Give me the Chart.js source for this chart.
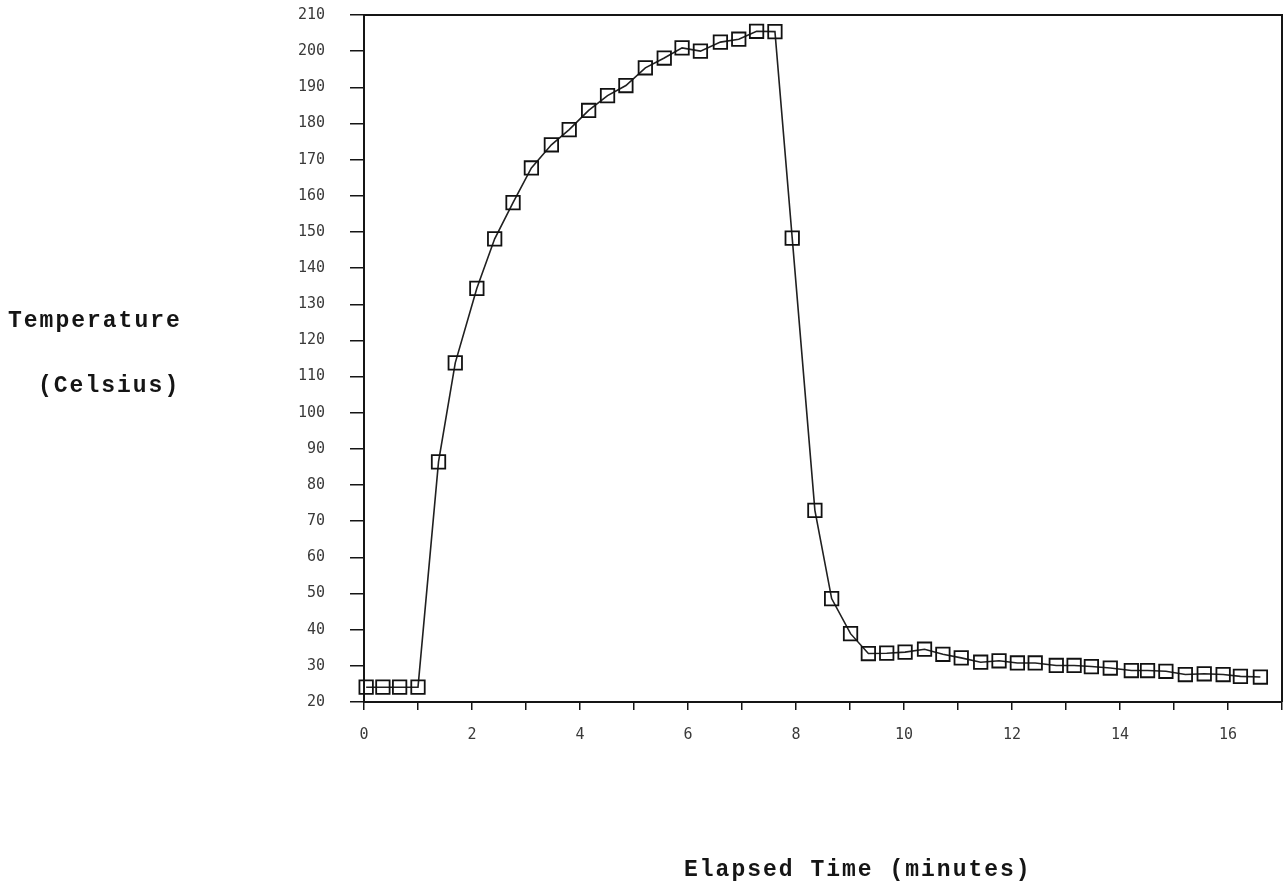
<!DOCTYPE html>
<html>
<head>
<meta charset="utf-8">
<title>Temperature vs Elapsed Time</title>
<script src="https://cdn.jsdelivr.net/npm/chart.js@4"></script>
<style>
  html, body { margin: 0; padding: 0; background: #ffffff; }
  #wrap { position: relative; width: 1288px; height: 885px; }
  canvas { display: block; }
</style>
</head>
<body>
<div id="wrap"><canvas id="c" width="1288" height="885"></canvas></div>
<script>
// Sampled readings: elapsed time (minutes) and measured temperature (Celsius)
const timeMin = [0.04, 0.35, 0.66, 1.00, 1.38, 1.69, 2.09, 2.42, 2.76, 3.10,
                 3.47, 3.80, 4.16, 4.51, 4.85, 5.21, 5.56, 5.89, 6.23, 6.60,
                 6.94, 7.27, 7.61, 7.93, 8.35, 8.66, 9.01, 9.34, 9.68, 10.02,
                 10.38, 10.72, 11.06, 11.42, 11.76, 12.10, 12.43, 12.82, 13.15, 13.47,
                 13.82, 14.21, 14.51, 14.85, 15.21, 15.56, 15.91, 16.23, 16.60];
const tempC   = [24.1, 24.1, 24.1, 24.1, 86.4, 113.8, 134.4, 148.1, 158.1, 167.7,
                 174.1, 178.3, 183.6, 187.7, 190.5, 195.4, 198.1, 200.9, 200.0, 202.5,
                 203.3, 205.5, 205.4, 148.3, 73.0, 48.6, 38.9, 33.4, 33.5, 33.8,
                 34.6, 33.2, 32.2, 31.0, 31.4, 30.8, 30.8, 30.1, 30.1, 29.8,
                 29.4, 28.7, 28.7, 28.5, 27.6, 27.8, 27.6, 27.1, 26.9];

// Axis ranges and labelled ticks
const xRange = [0, 17];
const yRange = [20, 210];
const xLabelled = [0, 2, 4, 6, 8, 10, 12, 14, 16];

// Axis captions
const yTitleLines = ['Temperature', '(Celsius)'];
const xTitle = 'Elapsed Time (minutes)';

const points = timeMin.map((t, i) => ({ x: t, y: tempC[i] }));

const INK = '#151515';
const TICK_FONT = { family: '"DejaVu Sans Mono", monospace', size: 15 };

// Draws the closing top/right frame lines and the typed axis captions
const framePlugin = {
  id: 'frameAndCaptions',
  beforeDatasetsDraw(chart) {
    const { ctx, chartArea: a } = chart;
    ctx.save();
    ctx.strokeStyle = INK;
    ctx.lineWidth = 2;
    ctx.beginPath();
    ctx.moveTo(a.left, a.top);
    ctx.lineTo(a.right, a.top);
    ctx.lineTo(a.right, a.bottom);
    ctx.stroke();
    ctx.restore();
  },
  afterDraw(chart) {
    const { ctx } = chart;
    ctx.save();
    ctx.fillStyle = INK;
    ctx.font = 'bold 23px "Liberation Mono", "Courier New", monospace';
    if ('letterSpacing' in ctx) ctx.letterSpacing = '2px';
    ctx.textBaseline = 'middle';
    ctx.textAlign = 'left';
    ctx.fillText(yTitleLines[0], 8, 321);
    ctx.fillText(yTitleLines[1], 38, 386);
    ctx.fillText(xTitle, 684, 870);
    ctx.restore();
  }
};

new Chart(document.getElementById('c'), {
  type: 'line',
  data: {
    datasets: [{
      data: points,
      borderColor: '#202020',
      borderWidth: 1.6,
      pointStyle: 'rect',
      pointRadius: 9.5,
      pointBorderWidth: 1.8,
      pointBorderColor: '#111',
      pointBackgroundColor: 'rgba(0,0,0,0)',
      tension: 0,
      fill: false,
      clip: false
    }]
  },
  options: {
    responsive: false,
    animation: false,
    layout: { autoPadding: false, padding: { top: 15, right: 6, bottom: 0, left: 0 } },
    plugins: { legend: { display: false }, tooltip: { enabled: false } },
    scales: {
      x: {
        type: 'linear',
        min: xRange[0],
        max: xRange[1],
        afterFit(scale) {
          scale.height = 183;
          scale.paddingLeft = 0;
          scale.paddingRight = 0;
        },
        border: { display: true, color: INK, width: 2 },
        grid: { drawOnChartArea: false, drawTicks: true, tickLength: 8, color: INK, lineWidth: 1.5 },
        ticks: {
          stepSize: 1,
          autoSkip: false,
          maxRotation: 0,
          padding: 16,
          color: '#3a3a3a',
          font: TICK_FONT,
          callback: (v) => xLabelled.includes(v) ? String(v) : ''
        }
      },
      y: {
        type: 'linear',
        min: yRange[0],
        max: yRange[1],
        afterFit(scale) {
          scale.width = 364;
          scale.paddingTop = 0;
          scale.paddingBottom = 0;
        },
        border: { display: true, color: INK, width: 2 },
        grid: { drawOnChartArea: false, drawTicks: true, tickLength: 14, color: INK, lineWidth: 1.5 },
        ticks: {
          stepSize: 10,
          autoSkip: false,
          padding: 25,
          color: '#3a3a3a',
          font: TICK_FONT
        }
      }
    }
  },
  plugins: [framePlugin]
});
</script>
</body>
</html>
